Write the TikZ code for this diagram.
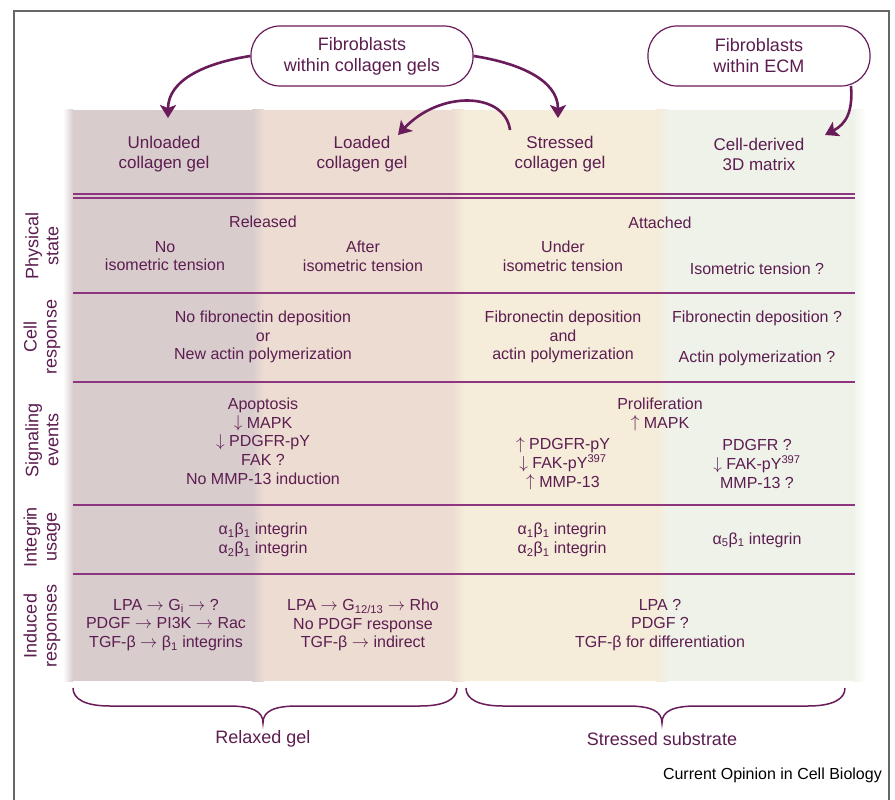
\documentclass[tikz,border=0pt]{standalone}
\usepackage{fontspec}
\setmainfont{Liberation Sans}
\usetikzlibrary{arrows.meta}
\newcommand\myup{\smash{\raisebox{0.5pt}{$\uparrow$}}}
\newcommand\mydown{\smash{\raisebox{0.5pt}{$\downarrow$}}}
\newcommand\myto{\smash{$\rightarrow$}}
\definecolor{txt}{HTML}{5C1D50}
\definecolor{lin}{HTML}{8E3580}
\definecolor{arw}{HTML}{6A1B5A}
\definecolor{cA}{HTML}{D8CCCD}
\definecolor{cB}{HTML}{EDDCD2}
\definecolor{cC}{HTML}{F5ECD9}
\definecolor{cD}{HTML}{EFF2E9}
\tikzset{
  body/.style={text=txt, align=center, inner sep=0pt, font=\fontsize{16}{18.7}\selectfont},
  head/.style={text=txt, align=center, inner sep=0pt, font=\fontsize{17}{20}\selectfont},
  rowlab/.style={text=txt, align=center, inner sep=0pt, rotate=90, font=\fontsize{18}{20}\selectfont},
  topbox/.style={draw=arw, line width=1.2pt, rounded corners=29pt, minimum width=222pt, minimum height=60pt, text=txt, align=center, font=\fontsize{18}{21}\selectfont},
  bigarrow/.style={draw=arw, line width=2.6pt, -{Stealth[length=13pt,width=16pt,inset=3pt]}},
  rule/.style={draw=lin, line width=1.2pt},
  bracestyle/.style={draw=arw, line width=1.5pt},
}
\begin{document}
\begin{tikzpicture}[x=1pt,y=-1pt]
\useasboundingbox (0,0) rectangle (895,800);
\fill[white] (0,0) rectangle (895,800);
% frame
\draw[line width=1.5pt, color=black!60] (14,800) -- (14,11) -- (889,11) -- (889,800);
% column backgrounds
\fill[cA] (73,110) rectangle (258,681);
\fill[cB] (258,110) rectangle (458,681);
\fill[cC] (458,110) rectangle (662,681);
\fill[cD] (662,110) rectangle (853,681);
\shade[left color=white, right color=cA] (63,110) rectangle (73,681);
\shade[left color=cA, right color=cB] (252,110) rectangle (264,681);
\shade[left color=cB, right color=cC] (452,110) rectangle (464,681);
\shade[left color=cC, right color=cD] (656,110) rectangle (668,681);
\shade[left color=cD, right color=white] (853,110) rectangle (866,681);
% rules
\draw[rule] (73,194) -- (855,194);
\draw[rule] (73,198) -- (855,198);
\draw[rule] (73,293) -- (855,293);
\draw[rule] (73,382) -- (855,382);
\draw[rule] (73,505) -- (855,505);
\draw[rule] (73,574) -- (855,574);
% top boxes
\node[topbox] (fb1) at (362,56) {Fibroblasts\\within collagen gels};
\node[topbox] (fb2) at (759,56) {Fibroblasts\\within ECM};
% headers
\node[head] (h1) at (164,154) {Unloaded\\collagen gel};
\node[head] (h2) at (362,154) {Loaded\\collagen gel};
\node[head] (h3) at (560,154) {Stressed\\collagen gel};
\node[head] (h4) at (759,154) {Cell-derived\\3D matrix};
\coordinate (t1) at (168,118);
\coordinate (t2) at (558,118);
\coordinate (s3) at (510,130);
\coordinate (t3) at (398,135);
\coordinate (s4) at (851,86);
\coordinate (t4) at (825,135);
\draw[bigarrow] (fb1.west) .. controls (205,63) and (168,80) .. (t1);
\draw[bigarrow] (fb1.east) .. controls (519,63) and (558,80) .. (t2);
\draw[bigarrow] (s3) .. controls (505,92) and (440,90) .. (t3);
\draw[bigarrow] (s4) .. controls (853,112) and (846,124) .. (t4);
% row labels
\node[rowlab] (r1) at (42,246) {Physical\\state};
\node[rowlab] (r2) at (42,337) {Cell\\response};
\node[rowlab] (r3) at (42,440) {Signaling\\events};
\node[rowlab] (r4) at (42,537) {Integrin\\usage};
\node[rowlab] (r5) at (42,626) {Induced\\responses};
% row 1
\node[body] (a1) at (263,222) {Released};
\node[body] (a2) at (165,256) {No\\isometric tension};
\node[body] (a3) at (363,256) {After\\isometric tension};
\node[body] (a4) at (660,223) {Attached};
\node[body] (a5) at (563,256) {Under\\isometric tension};
\node[body] (a6) at (757,269) {Isometric tension ?};
% row 2
\node[body] (b1) at (263,337) {No fibronectin deposition\\or\\New actin polymerization};
\node[body] (b2) at (563,337) {Fibronectin deposition\\and\\actin polymerization};
\node[body] (b3) at (757,318) {Fibronectin deposition ?};
\node[body] (b4) at (757,358) {Actin polymerization ?};
% row 3
\node[body] (c1) at (263,441) {Apoptosis\\\mydown\ MAPK\\\mydown\ PDGFR-pY\\FAK ?\\No MMP-13 induction};
\node[body] (c2) at (660,413) {Proliferation\\\myup\ MAPK};
\node[body] (c3) at (563,463) {\myup\ PDGFR-pY\\\mydown\ FAK-pY\textsuperscript{397}\\\myup\ MMP-13};
\node[body] (c4) at (757,464) {PDGFR ?\\\mydown\ FAK-pY\textsuperscript{397}\\MMP-13 ?};
% row 4
\node[body] (d1) at (263,540) {α\textsubscript{1}β\textsubscript{1} integrin\\α\textsubscript{2}β\textsubscript{1} integrin};
\node[body] (d2) at (562,540) {α\textsubscript{1}β\textsubscript{1} integrin\\α\textsubscript{2}β\textsubscript{1} integrin};
\node[body] (d3) at (757,540) {α\textsubscript{5}β\textsubscript{1} integrin};
% row 5
\node[body] (e1) at (166,625) {LPA \myto\ G\textsubscript{i} \myto\ ?\\PDGF \myto\ PI3K \myto\ Rac\\TGF-β \myto\ β\textsubscript{1} integrins};
\node[body] (e2) at (363,625) {LPA \myto\ G\textsubscript{12/13} \myto\ Rho\\No PDGF response\\TGF-β \myto\ indirect};
\node[body] (e3) at (660,625) {LPA ?\\PDGF ?\\TGF-β for differentiation};
% braces
\draw[bracestyle] (73,688) .. controls (73,699) and (85,706) .. (110,706) -- (228,706) .. controls (252,706) and (263,711) .. (263,723) .. controls (263,711) and (274,706) .. (298,706) -- (420,706) .. controls (445,706) and (457,699) .. (457,688);
\draw[bracestyle] (466,688) .. controls (466,699) and (478,706) .. (503,706) -- (627,706) .. controls (651,706) and (662,711) .. (662,723) .. controls (662,711) and (673,706) .. (697,706) -- (808,706) .. controls (833,706) and (845,699) .. (845,688);
\node[head, font=\fontsize{18}{20}\selectfont] (g1) at (263,739) {Relaxed gel};
\node[head, font=\fontsize{18}{20}\selectfont] (g2) at (662,739) {Stressed substrate};
\node[anchor=east, inner sep=0pt, font=\fontsize{16}{18}\selectfont] (src) at (882,775) {Current Opinion in Cell Biology};
\end{tikzpicture}
\end{document}
